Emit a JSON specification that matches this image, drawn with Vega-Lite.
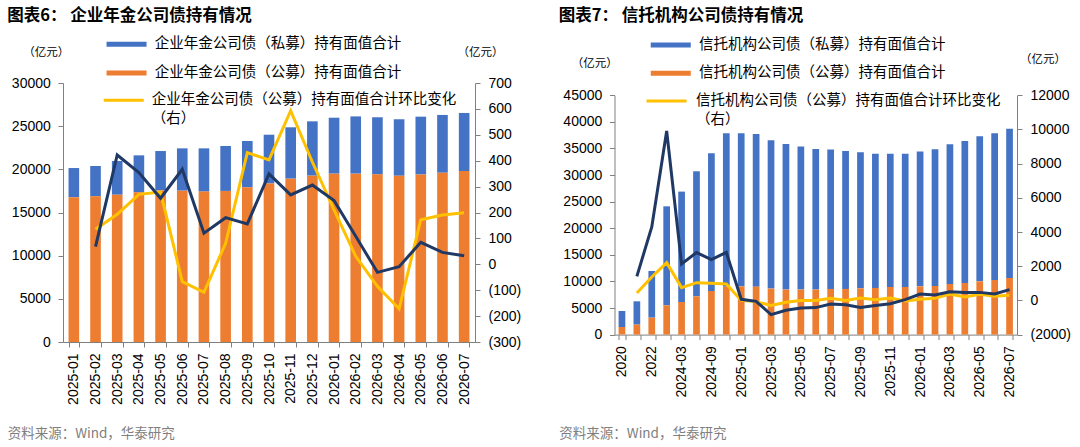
{
  "$schema": "https://vega.github.io/schema/vega-lite/v6.json",
  "background": "white",
  "padding": {"left": 7, "top": 7, "right": 5, "bottom": 5},
  "columns": 2,
  "align": "none",
  "spacing": 37.5,
  "datasets": {
    "annuity": [
      {"period": "2025-01", "pub": 16770, "priv": 3380},
      {"period": "2025-02", "pub": 16870, "priv": 3520, "pubChg": 135, "privChg": 68},
      {"period": "2025-03", "pub": 17060, "priv": 3910, "pubChg": 193, "privChg": 422},
      {"period": "2025-04", "pub": 17340, "priv": 4280, "pubChg": 270, "privChg": 354},
      {"period": "2025-05", "pub": 17560, "priv": 4560, "pubChg": 279, "privChg": 255},
      {"period": "2025-06", "pub": 17530, "priv": 4900, "pubChg": -67, "privChg": 367},
      {"period": "2025-07", "pub": 17420, "priv": 5010, "pubChg": -108, "privChg": 120},
      {"period": "2025-08", "pub": 17500, "priv": 5200, "pubChg": 81, "privChg": 180},
      {"period": "2025-09", "pub": 17920, "priv": 5360, "pubChg": 431, "privChg": 156},
      {"period": "2025-10", "pub": 18360, "priv": 5650, "pubChg": 403, "privChg": 349},
      {"period": "2025-11", "pub": 18920, "priv": 5950, "pubChg": 593, "privChg": 268},
      {"period": "2025-12", "pub": 19270, "priv": 6290, "pubChg": 395, "privChg": 306},
      {"period": "2026-01", "pub": 19500, "priv": 6480, "pubChg": 210, "privChg": 246},
      {"period": "2026-02", "pub": 19500, "priv": 6630, "pubChg": 31, "privChg": 108},
      {"period": "2026-03", "pub": 19420, "priv": 6610, "pubChg": -85, "privChg": -31},
      {"period": "2026-04", "pub": 19260, "priv": 6540, "pubChg": -172, "privChg": -9},
      {"period": "2026-05", "pub": 19400, "priv": 6700, "pubChg": 172, "privChg": 85},
      {"period": "2026-06", "pub": 19610, "priv": 6690, "pubChg": 190, "privChg": 46},
      {"period": "2026-07", "pub": 19810, "priv": 6720, "pubChg": 199, "privChg": 33}
    ],
    "trust": [
      {"period": "2020", "pub": 1430, "priv": 3010},
      {"period": "2021", "pub": 1880, "priv": 4380, "pubChg": 435, "privChg": 1410},
      {"period": "2022", "pub": 3190, "priv": 8770, "pubChg": 1370, "privChg": 4300},
      {"period": "2023", "pub": 5510, "priv": 18610, "pubChg": 2210, "privChg": 9910},
      {"period": "2024-03", "pub": 6130, "priv": 20760, "pubChg": 750, "privChg": 2130},
      {"period": "2024-06", "pub": 7200, "priv": 23510, "pubChg": 1040, "privChg": 2800},
      {"period": "2024-09", "pub": 8200, "priv": 25890, "pubChg": 1000, "privChg": 2390},
      {"period": "2024-12", "pub": 9000, "priv": 28850, "pubChg": 960, "privChg": 2810},
      {"period": "2025-01", "pub": 9080, "priv": 28770, "pubChg": 0, "privChg": 64},
      {"period": "2025-02", "pub": 9020, "priv": 28710, "pubChg": -70, "privChg": -53},
      {"period": "2025-03", "pub": 8650, "priv": 27890, "pubChg": -300, "privChg": -830},
      {"period": "2025-04", "pub": 8460, "priv": 27390, "pubChg": -110, "privChg": -580},
      {"period": "2025-05", "pub": 8460, "priv": 26890, "pubChg": -10, "privChg": -440},
      {"period": "2025-06", "pub": 8460, "priv": 26450, "pubChg": 0, "privChg": -420},
      {"period": "2025-07", "pub": 8590, "priv": 26200, "pubChg": 120, "privChg": -210},
      {"period": "2025-08", "pub": 8590, "priv": 25940, "pubChg": 0, "privChg": -250},
      {"period": "2025-09", "pub": 8710, "priv": 25570, "pubChg": 140, "privChg": -420},
      {"period": "2025-10", "pub": 8780, "priv": 25250, "pubChg": 45, "privChg": -300},
      {"period": "2025-11", "pub": 8960, "priv": 25070, "pubChg": 140, "privChg": -190},
      {"period": "2025-12", "pub": 8960, "priv": 25070, "pubChg": -35, "privChg": 45},
      {"period": "2026-01", "pub": 9080, "priv": 25330, "pubChg": 64, "privChg": 375},
      {"period": "2026-02", "pub": 9150, "priv": 25700, "pubChg": 120, "privChg": 316},
      {"period": "2026-03", "pub": 9520, "priv": 26270, "pubChg": 375, "privChg": 510},
      {"period": "2026-04", "pub": 9710, "priv": 26700, "pubChg": 200, "privChg": 470},
      {"period": "2026-05", "pub": 10020, "priv": 27270, "pubChg": 355, "privChg": 470},
      {"period": "2026-06", "pub": 10270, "priv": 27580, "pubChg": 240, "privChg": 375},
      {"period": "2026-07", "pub": 10650, "priv": 28080, "pubChg": 300, "privChg": 630}
    ]
  },
  "concat": [
    {
      "title": {"text": "图表6： 企业年金公司债持有情况", "offset": 13},
      "width": 412,
      "height": 259,
      "data": {"name": "annuity"},
      "encoding": {
        "x": {
          "field": "period",
          "type": "ordinal",
          "sort": null,
          "scale": {"paddingInner": 0.51, "paddingOuter": 0.255},
          "axis": {
            "labelAngle": -90,
            "labelPadding": 6,
            "labelOverlap": false,
            "tickBand": "extent",
            "title": "资料来源：Wind，华泰研究",
            "titleX": -55.8,
            "titleY": 91.6
          }
        }
      },
      "layer": [
        {
          "transform": [{"fold": ["priv", "pub"], "as": ["series", "value"]}],
          "mark": {"type": "bar"},
          "encoding": {
            "y": {
              "field": "value",
              "type": "quantitative",
              "stack": "zero",
              "scale": {"domain": [0, 30000], "nice": false},
              "axis": {
                "orient": "left",
                "values": [0, 5000, 10000, 15000, 20000, 25000, 30000],
                "format": "d",
                "labelPadding": 7.7,
                "title": "（亿元）",
                "titleX": -17.2,
                "titleY": -30.2
              }
            },
            "color": {
              "field": "series",
              "type": "nominal",
              "scale": {"domain": ["priv", "pub"], "range": ["#4472C4", "#ED7D31"]},
              "legend": {
                "orient": "none",
                "legendX": 56.3,
                "legendY": -46,
                "labelOffset": 21,
                "rowPadding": 13.8,
                "symbolType": "M-4,-0.5H4V0.5H-4Z",
                "symbolStrokeWidth": 0,
                "labelExpr": "datum.value == 'priv' ? '企业年金公司债（私募）持有面值合计' : '企业年金公司债（公募）持有面值合计'"
              }
            },
            "order": {"field": "series", "sort": "descending"}
          }
        },
        {
          "transform": [{"fold": ["pubChg", "privChg"], "as": ["series", "value"]}],
          "mark": {"type": "line", "strokeWidth": 3},
          "encoding": {
            "y": {
              "field": "value",
              "type": "quantitative",
              "scale": {"domain": [-300, 700], "nice": false},
              "axis": {
                "orient": "right",
                "values": [-300, -200, -100, 0, 100, 200, 300, 400, 500, 600, 700],
                "labelExpr": "datum.value < 0 ? '(' + (-datum.value) + ')' : '' + datum.value",
                "labelPadding": 8,
                "title": "（亿元）",
                "titleX": 5,
                "titleY": -30.4
              }
            },
            "stroke": {
              "field": "series",
              "type": "nominal",
              "scale": {"domain": ["pubChg", "privChg"], "range": ["#FFC000", "#1F3864"]},
              "legend": {
                "orient": "none",
                "values": ["pubChg"],
                "legendX": 53.5,
                "legendY": 10,
                "labelOffset": 20.8,
                "symbolType": "M-4,0H4",
                "symbolStrokeWidth": 3,
                "labelExpr": "['企业年金公司债（公募）持有面值合计环比变化', '（右）']",
                "encode": {
                  "labels": {
                    "update": {
                      "baseline": {"value": "top"},
                      "dy": {"value": -7},
                      "lineHeight": {"value": 19}
                    }
                  }
                }
              }
            }
          }
        }
      ],
      "resolve": {"scale": {"y": "independent"}}
    },
    {
      "title": {"text": "图表7： 信托机构公司债持有情况", "offset": 13},
      "width": 402.5,
      "height": 251.6,
      "data": {"name": "trust"},
      "encoding": {
        "x": {
          "field": "period",
          "type": "ordinal",
          "sort": null,
          "scale": {"paddingInner": 0.55, "paddingOuter": 0.275},
          "axis": {
            "labelAngle": -90,
            "labelPadding": 6,
            "labelOverlap": false,
            "tickBand": "extent",
            "labelExpr": "indexof(['2020','2022','2024-03','2024-09','2025-01','2025-03','2025-05','2025-07','2025-09','2025-11','2026-01','2026-03','2026-05','2026-07'], datum.label) >= 0 ? datum.label : ''",
            "title": "资料来源：Wind，华泰研究",
            "titleX": -55.7,
            "titleY": 98.7
          }
        }
      },
      "layer": [
        {
          "transform": [{"fold": ["priv", "pub"], "as": ["series", "value"]}],
          "mark": {"type": "bar"},
          "encoding": {
            "y": {
              "field": "value",
              "type": "quantitative",
              "stack": "zero",
              "scale": {"domain": [0, 45000], "nice": false, "range": [251.6, 12.3]},
              "axis": {
                "orient": "left",
                "values": [0, 5000, 10000, 15000, 20000, 25000, 30000, 35000, 40000, 45000],
                "format": "d",
                "labelPadding": 7.7,
                "title": "（亿元）",
                "titleX": -20.2,
                "titleY": -19.4
              }
            },
            "color": {
              "field": "series",
              "type": "nominal",
              "scale": {"domain": ["priv", "pub"], "range": ["#4472C4", "#ED7D31"]},
              "legend": {
                "orient": "none",
                "legendX": 49,
                "legendY": -45.3,
                "labelOffset": 21,
                "rowPadding": 13.2,
                "symbolType": "M-4,-0.5H4V0.5H-4Z",
                "symbolStrokeWidth": 0,
                "labelExpr": "datum.value == 'priv' ? '信托机构公司债（私募）持有面值合计' : '信托机构公司债（公募）持有面值合计'"
              }
            },
            "order": {"field": "series", "sort": "descending"}
          }
        },
        {
          "transform": [{"fold": ["pubChg", "privChg"], "as": ["series", "value"]}],
          "mark": {"type": "line", "strokeWidth": 3},
          "encoding": {
            "y": {
              "field": "value",
              "type": "quantitative",
              "scale": {"domain": [-2000, 12000], "nice": false, "range": [251.6, 12.3]},
              "axis": {
                "orient": "right",
                "values": [-2000, 0, 2000, 4000, 6000, 8000, 10000, 12000],
                "labelExpr": "datum.value < 0 ? '(' + (-datum.value) + ')' : '' + datum.value",
                "labelPadding": 8,
                "title": "（亿元）",
                "titleX": 25.6,
                "titleY": -24
              }
            },
            "stroke": {
              "field": "series",
              "type": "nominal",
              "scale": {"domain": ["pubChg", "privChg"], "range": ["#FFC000", "#1F3864"]},
              "legend": {
                "orient": "none",
                "values": ["pubChg"],
                "legendX": 44.8,
                "legendY": 10.8,
                "labelOffset": 22.2,
                "symbolType": "M-4,0H4",
                "symbolStrokeWidth": 3,
                "labelExpr": "['信托机构公司债（公募）持有面值合计环比变化', '（右）']",
                "encode": {
                  "labels": {
                    "update": {
                      "baseline": {"value": "top"},
                      "dy": {"value": -7},
                      "lineHeight": {"value": 19}
                    }
                  }
                }
              }
            }
          }
        }
      ],
      "resolve": {"scale": {"y": "independent"}}
    }
  ],
  "resolve": {"scale": {"color": "independent", "stroke": "independent"}},
  "config": {
    "view": {"stroke": null},
    "title": {
      "anchor": "start",
      "font": "Noto Sans CJK SC",
      "fontSize": 16.5,
      "fontWeight": "bold",
      "color": "#000000"
    },
    "axis": {
      "grid": false,
      "domainColor": "#808080",
      "tickColor": "#808080",
      "tickSize": 5,
      "labelFont": "Liberation Sans",
      "labelFontSize": 14,
      "labelColor": "#000000",
      "titleAngle": 0,
      "titleAlign": "center",
      "titleBaseline": "middle",
      "titleFont": "Noto Sans CJK SC",
      "titleFontSize": 11.5,
      "titleFontWeight": "normal",
      "titleColor": "#000000"
    },
    "axisX": {
      "titleAlign": "left",
      "titleFontSize": 13.5,
      "titleColor": "#7f7f7f"
    },
    "legend": {
      "title": null,
      "padding": 0,
      "direction": "vertical",
      "symbolSize": 100,
      "labelFont": "Noto Sans CJK SC",
      "labelFontSize": 14.5,
      "labelColor": "#000000",
      "labelLimit": 400
    }
  }
}
